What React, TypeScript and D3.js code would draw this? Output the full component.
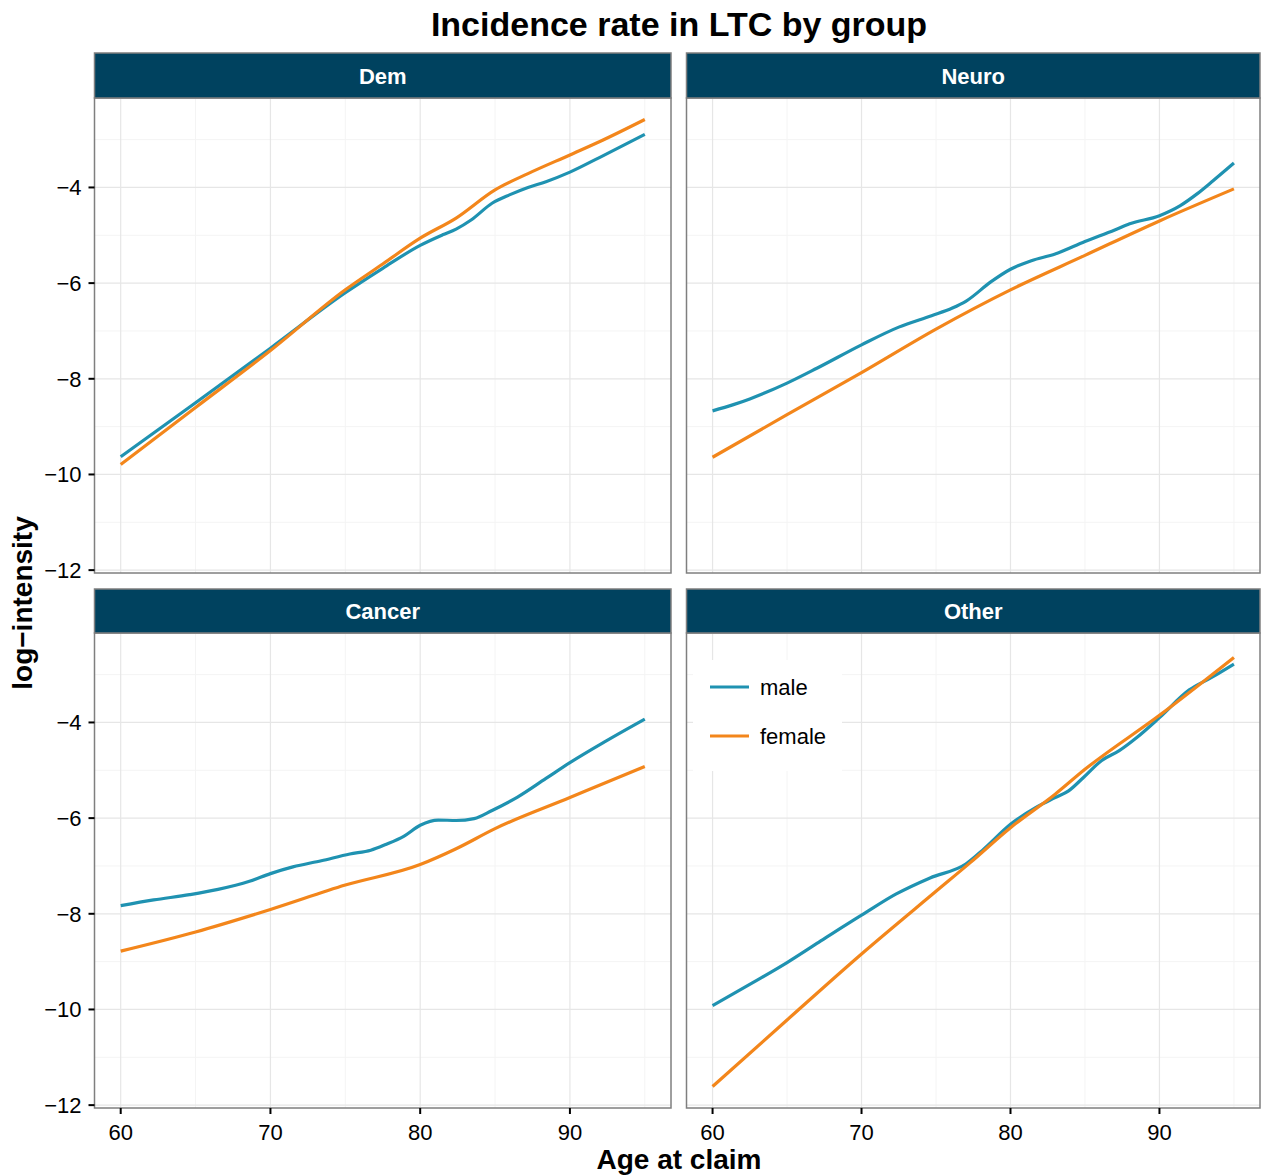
import React from "react";
import * as d3 from "d3";

type Pt = [number, number];

const panels = ["Dem", "Neuro", "Cancer", "Other"];
const seriesNames = ["male", "female"];
const seriesColors = ["#1f92b1", "#f3861b"];

const demMale: Pt[] = [[60,-9.63],[65,-8.50],[70,-7.36],[75,-6.20],[77.5,-5.69],[80,-5.21],[81.5,-4.99],[82.4,-4.87],[83.4,-4.68],[84.8,-4.33],[86,-4.15],[87.2,-4.00],[88.4,-3.88],[90,-3.68],[92,-3.37],[95,-2.89]];
const demFemale: Pt[] = [[60,-9.79],[65,-8.60],[70,-7.41],[75,-6.14],[77.5,-5.60],[80,-5.06],[82.4,-4.64],[85,-4.05],[87.2,-3.71],[90,-3.32],[92,-3.04],[95,-2.58]];
const neuroMale: Pt[] = [[60,-8.67],[61.4,-8.54],[62.5,-8.42],[65,-8.09],[67,-7.78],[70,-7.29],[72.5,-6.92],[74.7,-6.68],[76.1,-6.52],[77,-6.38],[78.7,-5.97],[80,-5.71],[81.4,-5.53],[83,-5.39],[85,-5.13],[87,-4.89],[88,-4.76],[90,-4.59],[91.4,-4.38],[92.5,-4.14],[93.6,-3.86],[95,-3.49]];
const neuroFemale: Pt[] = [[60,-9.64],[65,-8.75],[70,-7.87],[75,-6.96],[80,-6.14],[85,-5.42],[90,-4.70],[95,-4.03]];
const cancerMale: Pt[] = [[60,-7.83],[62.2,-7.71],[64.6,-7.60],[66.5,-7.49],[68.6,-7.32],[70,-7.16],[71.5,-7.02],[73.4,-6.89],[75.3,-6.75],[76.7,-6.67],[77.7,-6.55],[78.9,-6.38],[80,-6.15],[81.2,-6.04],[82.4,-6.05],[83.6,-6.01],[84.8,-5.84],[86.5,-5.56],[88.4,-5.17],[90,-4.84],[92.4,-4.39],[95,-3.93]];
const cancerFemale: Pt[] = [[60,-8.78],[65,-8.38],[70,-7.91],[75,-7.40],[80,-6.97],[82.4,-6.64],[85,-6.22],[90,-5.57],[95,-4.92]];
const otherMale: Pt[] = [[60,-9.92],[62.7,-9.44],[65,-9.02],[67,-8.62],[68.9,-8.24],[70,-8.03],[72.3,-7.59],[74.6,-7.25],[77,-6.96],[78.2,-6.65],[80,-6.13],[81.8,-5.76],[83,-5.57],[83.9,-5.43],[84.9,-5.15],[86.1,-4.80],[87.3,-4.59],[88.5,-4.31],[90,-3.90],[92,-3.32],[93.5,-3.06],[95,-2.78]];
const otherFemale: Pt[] = [[60,-11.61],[65,-10.22],[70,-8.84],[75,-7.53],[77.3,-6.93],[80,-6.20],[83,-5.50],[85,-4.98],[90,-3.85],[95,-2.64]];

const panelData: Pt[][][] = [
  [demMale, demFemale],
  [neuroMale, neuroFemale],
  [cancerMale, cancerFemale],
  [otherMale, otherFemale],
];

const xMajor = [60, 70, 80, 90];
const xMinor = [65, 75, 85, 95];
const yMajor = [-12, -10, -8, -6, -4];
const yMinor = [-11, -9, -7, -5, -3];

const FONT = "'Liberation Sans', Arial, Helvetica, sans-serif";

export default function App() {
  const W = 1261, H = 1176;
  const cols = [[94.5, 671], [686.5, 1260]];
  const rows = [[53, 98, 573], [589, 633, 1108]]; // strip top, plot top, plot bottom
  const xDomain = [58.25, 96.75];
  const yDomain = [-12.06, -2.13];

  const fmt = (v: number) => (v < 0 ? "\u2212" + Math.abs(v) : String(v));

  return (
    <svg width={W} height={H} style={{ position: "absolute", left: 0, top: 0, background: "#fff" }} fontFamily={FONT}>
      <rect x={0} y={0} width={W} height={H} fill="#fff" />
      <text x={679} y={36} textAnchor="middle" fontSize={34} fontWeight="bold" fill="#000">
        Incidence rate in LTC by group
      </text>
      {panels.map((name, i) => {
        const c = cols[i % 2];
        const r = rows[Math.floor(i / 2)];
        const x = d3.scaleLinear().domain(xDomain).range([c[0], c[1]]);
        const y = d3.scaleLinear().domain(yDomain).range([r[2], r[1]]);
        const line = d3
          .line<Pt>()
          .x((d) => x(d[0]))
          .y((d) => y(d[1]))
          .curve(d3.curveMonotoneX);
        const isLeft = i % 2 === 0;
        const isBottom = i >= 2;
        return (
          <g key={name}>
            <rect x={c[0]} y={r[1]} width={c[1] - c[0]} height={r[2] - r[1]} fill="#fff" />
            {xMinor.map((v) => (
              <line key={"xm" + v} x1={x(v)} x2={x(v)} y1={r[1]} y2={r[2]} stroke="#f4f4f4" strokeWidth={1} />
            ))}
            {yMinor.map((v) => (
              <line key={"ym" + v} x1={c[0]} x2={c[1]} y1={y(v)} y2={y(v)} stroke="#f4f4f4" strokeWidth={1} />
            ))}
            {xMajor.map((v) => (
              <line key={"xM" + v} x1={x(v)} x2={x(v)} y1={r[1]} y2={r[2]} stroke="#e6e6e6" strokeWidth={1.2} />
            ))}
            {yMajor.map((v) => (
              <line key={"yM" + v} x1={c[0]} x2={c[1]} y1={y(v)} y2={y(v)} stroke="#e6e6e6" strokeWidth={1.2} />
            ))}
            {name === "Other" && (
              <g>
                <rect x={693} y={660} width={149} height={111} fill="#fff" />
                {seriesNames.map((s, k) => (
                  <g key={s}>
                    <line x1={710} x2={749} y1={687 + k * 49} y2={687 + k * 49} stroke={seriesColors[k]} strokeWidth={3} />
                    <text x={760} y={695 + k * 49} fontSize={22} fill="#000">
                      {s}
                    </text>
                  </g>
                ))}
              </g>
            )}
            {panelData[i].map((d, k) => (
              <path key={k} d={line(d) || ""} fill="none" stroke={seriesColors[k]} strokeWidth={3.2} strokeLinejoin="round" />
            ))}
            <rect x={c[0]} y={r[1]} width={c[1] - c[0]} height={r[2] - r[1]} fill="none" stroke="#7f7f7f" strokeWidth={1.5} />
            <rect x={c[0]} y={r[0]} width={c[1] - c[0]} height={r[1] - r[0]} fill="#00425f" stroke="#7f7f7f" strokeWidth={1.5} />
            <text x={(c[0] + c[1]) / 2} y={(r[0] + r[1]) / 2 + 8} textAnchor="middle" fontSize={22} fontWeight="bold" fill="#fff">
              {name}
            </text>
            {isLeft &&
              yMajor.map((v) => (
                <g key={"ly" + v}>
                  <line x1={c[0] - 6} x2={c[0]} y1={y(v)} y2={y(v)} stroke="#000" strokeWidth={2} />
                  <text x={c[0] - 13} y={y(v) + 8} textAnchor="end" fontSize={22} fill="#000">
                    {fmt(v)}
                  </text>
                </g>
              ))}
            {isBottom &&
              xMajor.map((v) => (
                <g key={"bx" + v}>
                  <line x1={x(v)} x2={x(v)} y1={r[2]} y2={r[2] + 6} stroke="#000" strokeWidth={2} />
                  <text x={x(v)} y={r[2] + 32} textAnchor="middle" fontSize={22} fill="#000">
                    {v}
                  </text>
                </g>
              ))}
          </g>
        );
      })}
      <text x={679} y={1169} textAnchor="middle" fontSize={28} fontWeight="bold" fill="#000">
        Age at claim
      </text>
      <text transform="translate(32,603) rotate(-90)" textAnchor="middle" fontSize={28} fontWeight="bold" fill="#000">
        log−intensity
      </text>
    </svg>
  );
}
